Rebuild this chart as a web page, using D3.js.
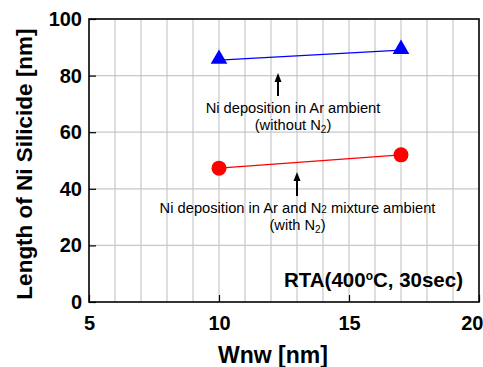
<!DOCTYPE html>
<html>
<head>
<meta charset="utf-8">
<script src="https://cdn.jsdelivr.net/npm/d3@7"></script>
<style>
  body { margin: 0; background: #fff; }
  text { font-family: "Liberation Sans", Arial, sans-serif; }
</style>
</head>
<body>
<script>
// data
var wnw = [10, 17];
var withoutN2 = [85.5, 89];
var withN2 = [47.3, 52];
var xTicks = [5, 10, 15, 20];
var yTicks = [0, 20, 40, 60, 80, 100];

var width = 483, height = 367;
var margin = {left: 89, right: 4, top: 19, bottom: 65};

var x = d3.scaleLinear().domain([5, 20]).range([margin.left, width - margin.right]);
var y = d3.scaleLinear().domain([0, 100]).range([height - margin.bottom, margin.top]);

var svg = d3.select("body").append("svg").attr("width", width).attr("height", height);

// grid
svg.append("g").selectAll("line")
  .data(d3.range(6, 20))
  .enter().append("line")
  .attr("x1", function(d){ return x(d); }).attr("x2", function(d){ return x(d); })
  .attr("y1", y(0)).attr("y2", y(100))
  .attr("stroke", "#c8c8c8").attr("stroke-width", 1.2);
svg.append("g").selectAll("line")
  .data([20, 40, 60, 80])
  .enter().append("line")
  .attr("y1", function(d){ return y(d); }).attr("y2", function(d){ return y(d); })
  .attr("x1", x(5)).attr("x2", x(20))
  .attr("stroke", "#c8c8c8").attr("stroke-width", 1.2);

// axes, ticks inward
var xAxis = svg.append("g")
  .attr("transform", "translate(0," + y(0) + ")")
  .call(d3.axisBottom(x).tickValues(xTicks).tickSizeInner(-7).tickSizeOuter(0).tickPadding(14));
var yAxis = svg.append("g")
  .attr("transform", "translate(" + x(5) + ",0)")
  .call(d3.axisLeft(y).tickValues(yTicks).tickSizeInner(-7).tickSizeOuter(0).tickPadding(7));
[xAxis, yAxis].forEach(function(a){
  a.select(".domain").remove();
  a.selectAll("line").attr("stroke", "#000").attr("stroke-width", 1.2);
  a.selectAll("text").attr("fill", "#000").attr("font-size", 20).attr("font-weight", "bold");
});
// last x label sits against the right edge
xAxis.selectAll(".tick").filter(function(d){ return d === 20; })
  .select("text").attr("text-anchor", "end").attr("dx", 4);

// frame
svg.append("rect")
  .attr("x", x(5)).attr("y", y(100))
  .attr("width", x(20) - x(5)).attr("height", y(0) - y(100))
  .attr("fill", "none").attr("stroke", "#000").attr("stroke-width", 1.6);

// series
var line = d3.line().x(function(d){ return x(d[0]); }).y(function(d){ return y(d[1]); });
var blue = d3.zip(wnw, withoutN2);
var red = d3.zip(wnw, withN2);

svg.append("path").attr("d", line(blue)).attr("fill", "none").attr("stroke", "#0000ff").attr("stroke-width", 1.3);
svg.append("path").attr("d", line(red)).attr("fill", "none").attr("stroke", "#ff0000").attr("stroke-width", 1.3);

svg.selectAll("path.tri").data(blue).enter().append("path")
  .attr("class", "tri")
  .attr("d", d3.symbol().type(d3.symbolTriangle).size(120))
  .attr("transform", function(d){ return "translate(" + x(d[0]) + "," + (y(d[1]) - 1) + ")"; })
  .attr("fill", "#0000ff");
svg.selectAll("circle.pt").data(red).enter().append("circle")
  .attr("class", "pt")
  .attr("cx", function(d){ return x(d[0]); }).attr("cy", function(d){ return y(d[1]); })
  .attr("r", 7.5).attr("fill", "#ff0000");

// annotation arrows
function arrow(xv, y0v, y1v) {
  var px = x(xv), tip = y(y1v);
  svg.append("line")
    .attr("x1", px).attr("x2", px)
    .attr("y1", y(y0v)).attr("y2", tip + 6)
    .attr("stroke", "#000").attr("stroke-width", 2);
  svg.append("path")
    .attr("d", "M" + px + "," + tip + "L" + (px + 3.5) + "," + (tip + 9) + "L" + (px - 3.5) + "," + (tip + 9) + "Z")
    .attr("fill", "#000");
}
arrow(12.27, 72.8, 80.9);
arrow(13.0, 37.5, 45.9);

var fs = 14.7;
svg.append("text").attr("x", 293).attr("y", 113).attr("text-anchor", "middle").attr("font-size", fs)
  .text("Ni deposition in Ar ambient");
var n1b = svg.append("text").attr("x", 293).attr("y", 130).attr("text-anchor", "middle").attr("font-size", fs);
n1b.append("tspan").text("(without N");
n1b.append("tspan").attr("font-size", 10).attr("dy", 3).text("2");
n1b.append("tspan").attr("dy", -3).text(")");

var n2 = svg.append("text").attr("x", 297.5).attr("y", 213).attr("text-anchor", "middle").attr("font-size", fs);
n2.append("tspan").text("Ni deposition in Ar and N");
n2.append("tspan").attr("font-size", 10).text("2");
n2.append("tspan").text(" mixture ambient");
var n2b = svg.append("text").attr("x", 297.5).attr("y", 230).attr("text-anchor", "middle").attr("font-size", fs);
n2b.append("tspan").text("(with N");
n2b.append("tspan").attr("font-size", 10).attr("dy", 3).text("2");
n2b.append("tspan").attr("dy", -3).text(")");

var rta = svg.append("text").attr("x", 463).attr("y", 287).attr("text-anchor", "end")
  .attr("font-size", 20.5).attr("font-weight", "bold");
rta.append("tspan").text("RTA(400");
rta.append("tspan").attr("font-size", 12).attr("dy", -7).text("o");
rta.append("tspan").attr("dy", 7).text("C, 30sec)");

// axis titles
svg.append("text").attr("x", 273).attr("y", 363).attr("text-anchor", "middle")
  .attr("font-size", 23).attr("font-weight", "bold").text("Wnw [nm]");
svg.append("text").attr("transform", "translate(32,164) rotate(-90)")
  .attr("text-anchor", "middle").attr("font-size", 22.5).attr("font-weight", "bold")
  .text("Length of Ni Silicide [nm]");
</script>
</body>
</html>
